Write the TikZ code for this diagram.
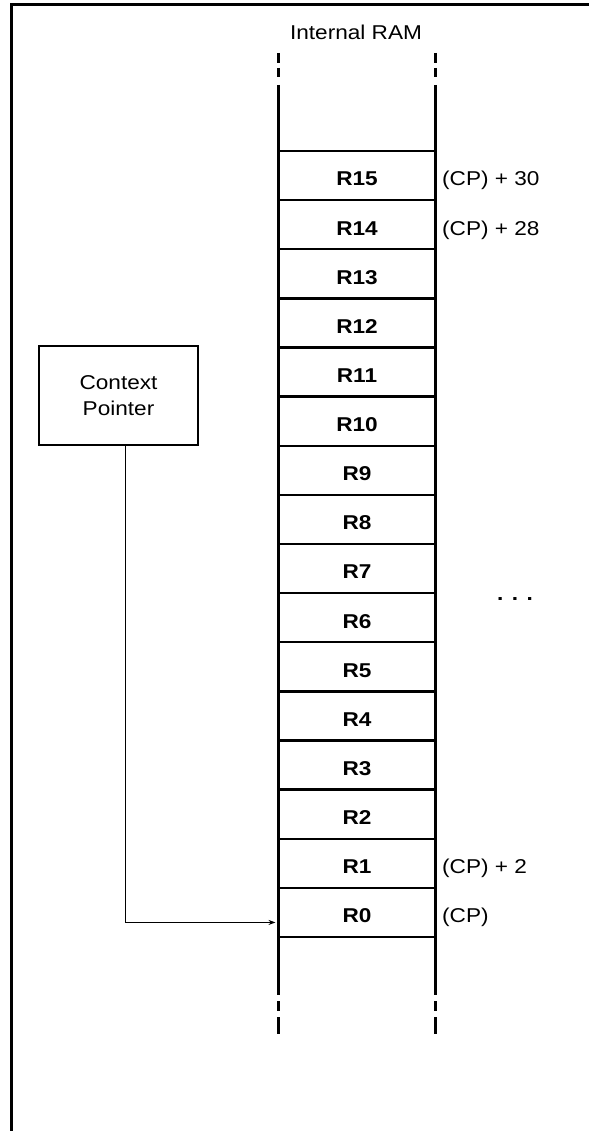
\documentclass[tikz,border=0pt]{standalone}
\usepackage{fontspec}
\setmainfont{Liberation Sans}[FakeStretch=1.13]
\usetikzlibrary{arrows.meta}
\begin{document}
\begin{tikzpicture}[x=1pt,y=-1pt,
  regbox/.style={draw,line width=2.4pt,outer sep=0pt,minimum width=157pt,minimum height=49.125pt,inner sep=0pt,text height=20.8pt,text depth=0pt,font=\fontsize{20}{24}\selectfont\bfseries},
  lbl/.style={anchor=base west,inner sep=0pt,font=\fontsize{20}{24}\selectfont},
  colline/.style={line width=2.2pt},
  txt/.style={font=\fontsize{20}{24}\selectfont,align=center,inner sep=0pt}]
\useasboundingbox (0,0) rectangle (589,1131);
% frame (top and left only)
\draw[line width=2.4pt] (11.5,1131) -- (11.5,4.5) -- (589,4.5);
% title
\node[txt] (title) at (356,32) {Internal RAM};
% registers
\foreach \i in {0,...,15}{
  \node[regbox] (r\i) at (357,{151+(15-\i)*49.125+24.5625}) {R\i};
}
% column top
\coordinate (tl) at (278.5,53);
\coordinate (tr) at (435.5,53);
\draw[colline] (tl) -- ++(0,10) (tl) ++(0,15) -- ++(0,9) (tl) ++(0,32) -- (r15.north west);
\draw[colline] (tr) -- ++(0,10) (tr) ++(0,15) -- ++(0,9) (tr) ++(0,32) -- (r15.north east);
% column bottom
\coordinate (bl) at (278.5,1034);
\coordinate (br) at (435.5,1034);
\draw[colline] (r0.south west) -- ++(0,58) ++(0,6) -- ++(0,10) ++(0,6) -- (bl);
\draw[colline] (r0.south east) -- ++(0,58) ++(0,6) -- ++(0,10) ++(0,6) -- (br);
% labels
\node[lbl] (l15) at (442,186) {(CP) + 30};
\node[lbl] (l14) at (442,235.1) {(CP) + 28};
\node[lbl] (l1) at (442,873) {(CP) + 2};
\node[lbl] (l0) at (442,922) {(CP)};
% dots
\node[inner sep=0pt,anchor=base,font=\fontsize{20}{24}\selectfont\bfseries] (dots) at (515,600) {. . .};
% context pointer
\node[draw,line width=2.4pt,minimum width=159pt,minimum height=99pt,txt,font=\fontsize{20}{26.7}\selectfont] (cp) at (118.5,395.5) {Context\\Pointer};
\draw[line width=1pt,-{Stealth[length=7pt,width=5pt]},shorten >=3pt]
  ([xshift=6.5pt]cp.south) |- ([yshift=-10pt]r0.west);
\end{tikzpicture}
\end{document}
